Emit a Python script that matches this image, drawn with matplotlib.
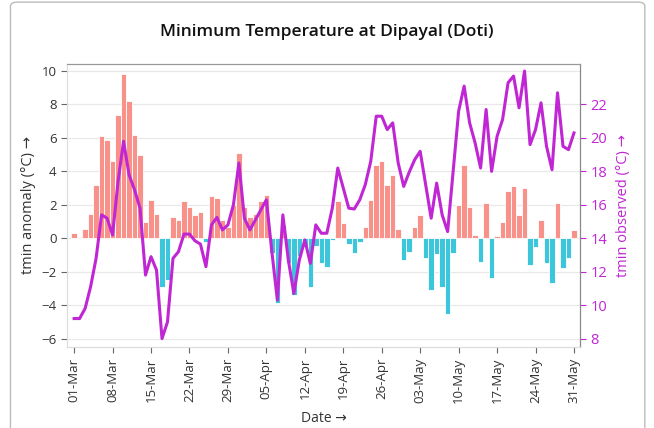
import matplotlib.pyplot as plt
from matplotlib.patches import FancyBboxPatch
import numpy as np

plt.rcParams['font.family'] = ['Open Sans', 'DejaVu Sans']

# daily values, 01-Mar .. 31-May
anomaly = [0.3, 0.1, 0.55, 1.45, 3.2, 6.1, 5.9, 4.6, 7.4, 9.8,
           8.2, 6.2, 5.0, 1.0, 2.3, 1.45, -2.9, -2.5, 1.3, 1.1,
           2.2, 1.9, 1.4, 1.6, -0.2, 2.5, 2.4, 1.1, 0.7, 2.0,
           5.1, 1.9, 1.3, 1.45, 2.2, 2.6, -0.9, -3.9, 0.8, -1.5,
           -3.4, -1.05, -0.55, -2.9, -0.45, -1.5, -1.7, -0.1, 2.2, 0.9,
           -0.35, -0.9, -0.25, 0.7, 2.3, 4.4, 4.6, 3.2, 3.8, 0.56,
           -1.3, -0.85, 0.7, 1.4, -1.2, -3.1, -0.95, -2.9, -4.5, -0.9,
           2.0, 4.4, 1.9, 0.2, -1.4, 2.1, -2.4, 0.15, 1.0, 2.8,
           3.1, 1.4, 3.0, -1.6, -0.5, 1.1, -1.5, -2.7, 2.1, -1.8,
           -1.15, 0.5]

observed = [9.2, 9.2, 9.8, 11.1, 12.8, 15.4, 15.2, 14.2, 17.4, 19.8,
            17.8, 16.9, 15.8, 11.8, 12.9, 12.1, 8.0, 9.0, 12.8, 13.2,
            14.25, 14.25, 13.85, 13.65, 12.3, 14.8, 15.25, 14.5, 14.8, 16.0,
            18.5, 15.2, 14.5, 15.1, 15.7, 16.3, 13.2, 10.3, 15.4, 12.7,
            10.7, 12.7, 13.9, 12.5, 14.8, 14.3, 14.3, 15.8, 18.2, 17.0,
            15.8, 15.75, 16.3, 17.2, 18.6, 21.3, 21.3, 20.5, 20.9, 18.5,
            17.1, 17.95, 18.7, 19.2, 17.2, 15.2, 17.3, 15.4, 14.4, 18.0,
            21.6, 23.1, 20.9, 19.7, 18.2, 21.7, 18.0, 20.1, 21.1, 23.3,
            23.7, 21.8, 24.0, 19.6, 20.5, 22.1, 19.5, 18.1, 22.7, 19.5,
            19.3, 20.3]

tick_days = [0, 7, 14, 21, 28, 35, 42, 49, 56, 63, 70, 77, 84, 91]
tick_labels = ['01-Mar', '08-Mar', '15-Mar', '22-Mar', '29-Mar', '05-Apr', '12-Apr',
               '19-Apr', '26-Apr', '03-May', '10-May', '17-May', '24-May', '31-May']

pink = '#f8918a'
cyan = '#3cc6db'
magenta = '#c026d3'
txt = '#333333'

days = np.arange(len(anomaly))
anom = np.array(anomaly)

fig = plt.figure(figsize=(6.54, 4.28), dpi=100)
fig.patches.append(FancyBboxPatch((0.016, -0.05), 0.97, 1.045,
                                  boxstyle='round,pad=0,rounding_size=0.01',
                                  transform=fig.transFigure, fill=False,
                                  edgecolor='#bbbbbb', lw=1))

ax = fig.add_axes([0.1024, 0.1893, 0.7845, 0.6619])
colors = [pink if v >= 0 else cyan for v in anom]
ax.bar(days, anom, width=1.0, color=colors, edgecolor='white', linewidth=0.6, zorder=2)

ax.set_xlim(-1.3, 92.1)
ax.set_ylim(-6.5, 10.44)
ax.set_yticks([-6, -4, -2, 0, 2, 4, 6, 8, 10])
ax.grid(axis='y', color='#e8e8e8', lw=0.9, zorder=0)
ax.set_axisbelow(True)
ax.set_xticks(tick_days)
ax.set_xticklabels(tick_labels, rotation=90, fontsize=9, color=txt)
ax.tick_params(axis='both', direction='out', length=4, color='#666666', labelsize=9.5, labelcolor=txt)
ax.set_xlabel('Date →', fontsize=10, color=txt, labelpad=6)
ax.set_ylabel('tmin anomaly (°C) →', fontsize=10.5, color=txt, labelpad=4)

ax2 = ax.twinx()
ax2.plot(days, observed, color=magenta, lw=2.2, zorder=3)
ax2.set_ylim(7.5, 24.44)
ax2.set_yticks([8, 10, 12, 14, 16, 18, 20, 22])
ax2.tick_params(axis='y', direction='out', length=4, color=magenta, labelcolor=magenta, labelsize=10.5)
ax2.set_ylabel('tmin observed (°C) →', fontsize=10.5, color=magenta, labelpad=6)

for a in (ax, ax2):
    a.spines['top'].set_color('#999999')
    a.spines['right'].set_color('#888888')
    a.spines['left'].set_color('#dddddd')
    a.spines['bottom'].set_color('#dddddd')

fig.text(0.5, 0.925, 'Minimum Temperature at Dipayal (Doti)', ha='center', va='center',
         fontsize=12.5, color='#111111', fontweight='semibold')

fig.savefig('out.png', dpi=100)
